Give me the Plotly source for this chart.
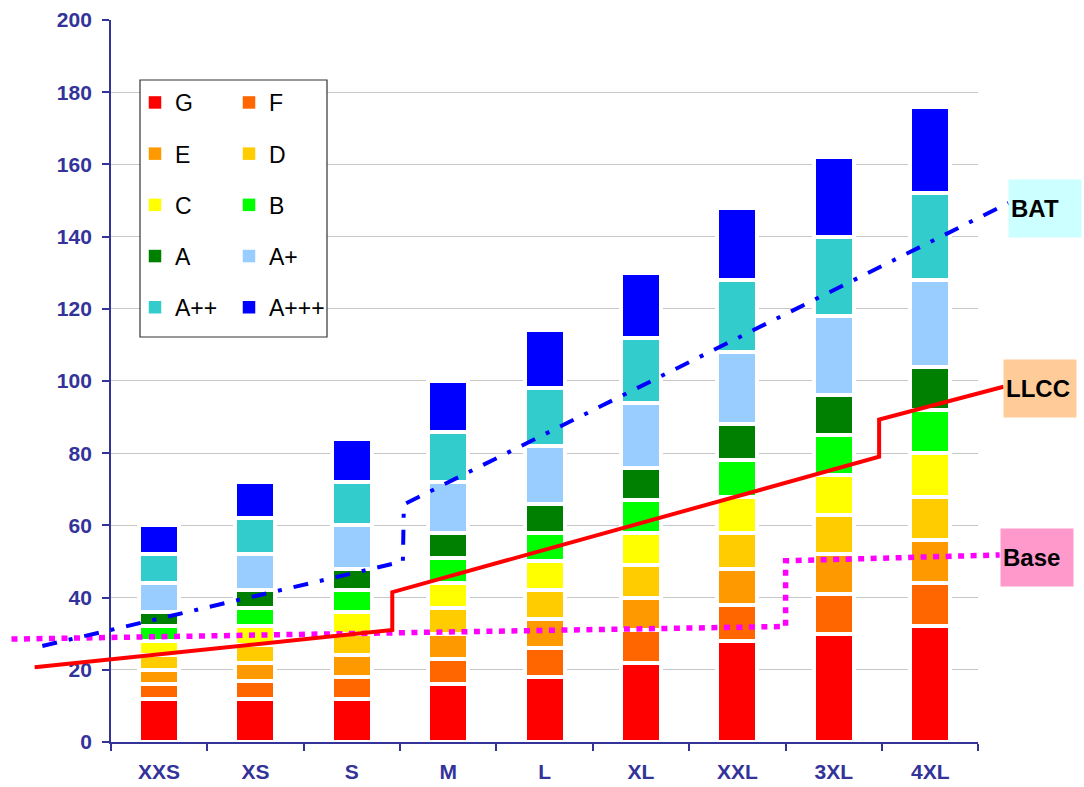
import plotly.graph_objects as go

# Size classes on the category axis
sizes = ["XXS", "XS", "S", "M", "L", "XL", "XXL", "3XL", "4XL"]

# Energy-label classes, bottom to top of each stack
classes = ["G", "F", "E", "D", "C", "B", "A", "A+", "A++", "A+++"]
class_colors = ["#FF0000", "#FF6600", "#FF9900", "#FFCC00", "#FFFF00",
                "#00FF00", "#008000", "#99CCFF", "#33CCCC", "#0000FF"]

# Height of each class band per size
band_g = [12, 12, 12, 16, 18, 22, 28, 30, 32]
band_f = [4, 5, 6, 7, 8, 9, 10, 11, 12]
band_e = [4, 5, 6, 7, 8, 9, 10, 11, 12]
band_d = [4, 5, 6, 7, 8, 9, 10, 11, 12]
band_c = [4, 5, 6, 7, 8, 9, 10, 11, 12]
band_b = [4, 5, 6, 7, 8, 9, 10, 11, 12]
band_a = [4, 5, 6, 7, 8, 9, 10, 11, 12]
band_a1 = [8, 10, 12, 14, 16, 18, 20, 22, 24]
band_a2 = [8, 10, 12, 14, 16, 18, 20, 22, 24]
band_a3 = [8, 10, 12, 14, 16, 18, 20, 22, 24]
bands = [band_g, band_f, band_e, band_d, band_c, band_b, band_a,
         band_a1, band_a2, band_a3]

# Reference curves; x is measured in size-class steps (0 = XXS, 8 = 4XL)
bat_x = [-1.21, 2.53, 2.54, 8.81]
bat_y = [26.6, 50.0, 65.8, 149.3]
llcc_x = [-1.29, 2.42, 2.42, 7.47, 7.47, 8.76]
llcc_y = [20.7, 31.0, 41.5, 79.0, 89.3, 98.4]
base_x = [-1.53, 6.50, 6.50, 8.72]
base_y = [28.5, 32.0, 50.2, 51.8]

W, H = 1084, 787
NAVY = "#333399"
FONT = "Liberation Sans, Arial, sans-serif"

x_dom = [0.1022, 0.9026]
y_dom = [0.0572, 0.9746]

# Full-width overlay axis sharing the size-class scale, so curves can run past the plot edges
cat_px = (x_dom[1] - x_dom[0]) * W / len(sizes)
x2_range = [-0.5 - x_dom[0] * W / cat_px,
            len(sizes) - 0.5 + (1 - x_dom[1]) * W / cat_px]

fig = go.Figure()

left_col = {"G", "E", "C", "A", "A++"}
for name, color, vals in zip(classes, class_colors, bands):
    fig.add_trace(go.Bar(
        x=sizes, y=vals, name=name, width=0.415,
        marker=dict(color=color, line=dict(color="white", width=4)),
        legendgroup=name, showlegend=False,
        hoverinfo="skip",
    ))

# Legend keys: plain square swatches, two columns
for name, color in zip(classes, class_colors):
    fig.add_trace(go.Scatter(
        x=[None], y=[None], mode="markers", name=name,
        marker=dict(symbol="square", size=12.5, color=color,
                    line=dict(width=0)),
        legend="legend" if name in left_col else "legend2",
        legendgroup=name, showlegend=True, hoverinfo="skip",
    ))

fig.add_trace(go.Scatter(
    x=base_x, y=base_y, mode="lines", xaxis="x2", yaxis="y3",
    line=dict(color="#FF00FF", width=5.5, dash="6px,6.5px"),
    showlegend=False, hoverinfo="skip",
))
fig.add_trace(go.Scatter(
    x=llcc_x, y=llcc_y, mode="lines", xaxis="x2", yaxis="y3",
    line=dict(color="#FF0000", width=4),
    showlegend=False, hoverinfo="skip",
))
fig.add_trace(go.Scatter(
    x=bat_x, y=bat_y, mode="lines", xaxis="x2", yaxis="y3",
    line=dict(color="#0000FF", width=4, dash="15px,12px,4px,12px"),
    showlegend=False, hoverinfo="skip",
))

# Curve name tags at the right-hand ends
tags = [("BAT", bat_x[-1], bat_y[-1], "#CCFFFF", -5),
        ("LLCC", llcc_x[-1], llcc_y[-1], "#FFCC99", -2),
        ("Base", base_x[-1], base_y[-1], "#FF99CC", -3)]
annotations = []
for text, x, y, bg, dy in tags:
    annotations.append(dict(
        text="<b>%s</b>" % text, x=x, y=y, xref="x2", yref="y3",
        xanchor="left", yanchor="middle", yshift=dy,
        showarrow=False, align="left", bgcolor=bg,
        width=68, height=53, borderpad=2,
        font=dict(family=FONT, size=24, color="black"),
    ))

legend_common = dict(
    orientation="v", traceorder="grouped", tracegroupgap=18.3,
    bgcolor="rgba(0,0,0,0)", borderwidth=0,
    font=dict(family=FONT, size=23, color="black"),
    xanchor="left", yanchor="top",
)

fig.update_layout(
    width=W, height=H,
    margin=dict(l=0, r=0, t=0, b=0, autoexpand=False),
    paper_bgcolor="white", plot_bgcolor="rgba(0,0,0,0)",
    barmode="stack",
    showlegend=True,
    legend=dict(legend_common, x=135 / W, y=1 - 81 / H),
    legend2=dict(legend_common, x=229 / W, y=1 - 81 / H),
    xaxis=dict(
        domain=x_dom, type="category", range=[-0.5, len(sizes) - 0.5],
        automargin=False,
        showline=True, linecolor=NAVY, linewidth=1.5,
        ticks="outside", tickson="boundaries", ticklen=7, tickcolor=NAVY,
        tickwidth=1.5, ticklabelstandoff=10,
        showgrid=False, fixedrange=True,
        tickfont=dict(family=FONT, size=21, color=NAVY, weight="bold"),
    ),
    yaxis=dict(
        domain=y_dom, range=[0, 200], dtick=20, anchor="x",
        automargin=False,
        showline=True, linecolor=NAVY, linewidth=1.5,
        ticks="outside", ticklen=7, tickcolor=NAVY, tickwidth=1.5,
        ticklabelstandoff=6,
        showgrid=True, gridcolor="#C8C8C8", gridwidth=1.2,
        zeroline=False, fixedrange=True,
        tickfont=dict(family=FONT, size=21, color=NAVY, weight="bold"),
    ),
    xaxis2=dict(domain=[0, 1], range=x2_range, anchor="y3", visible=False,
                automargin=False, fixedrange=True),
    yaxis3=dict(domain=y_dom, range=[0, 200], anchor="x2", visible=False,
                automargin=False, fixedrange=True),
    shapes=[dict(
        type="rect", xref="paper", yref="paper", layer="above",
        x0=140 / W, x1=327 / W, y0=1 - 337 / H, y1=1 - 80 / H,
        fillcolor="white", line=dict(color="#333333", width=1.2),
    )],
    annotations=annotations,
)

fig.write_html("out.html")
